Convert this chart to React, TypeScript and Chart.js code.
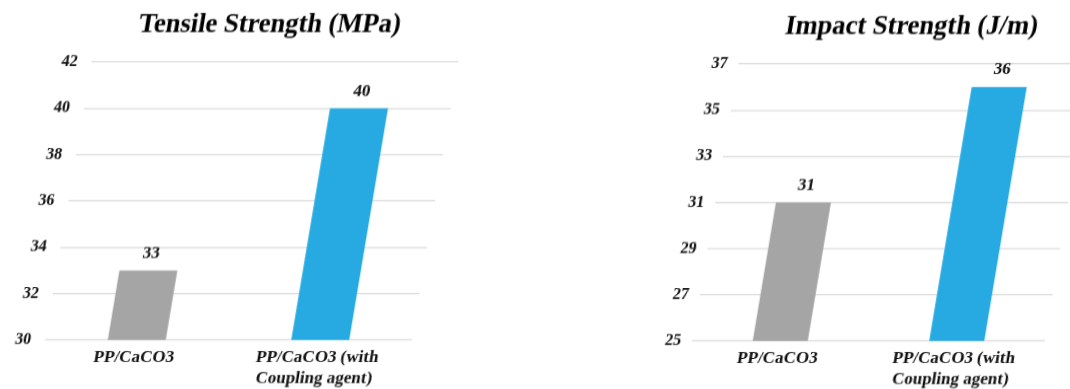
import React, { useEffect, useRef } from "react";
import { Chart, registerables } from "chart.js";

Chart.register(...registerables);

// ---- data ----
const categories: string[][] = [["PP/CaCO3"], ["PP/CaCO3 (with", "Coupling agent)"]];
const tensileValues = [33, 40];
const impactValues = [31, 36];
const tensileTicks = [30, 32, 34, 36, 38, 40, 42];
const impactTicks = [25, 27, 29, 31, 33, 35, 37];
const tensileTitle = "Tensile Strength (MPa)";
const impactTitle = "Impact Strength (J/m)";
const barColors = ["#a5a5a5", "#27aae1"];

const FONT = "\"Liberation Serif\", \"Times New Roman\", serif";

const valueLabels = {
  id: "valueLabels",
  afterDatasetsDraw(chart: any) {
    const { ctx } = chart;
    const meta = chart.getDatasetMeta(0);
    const data = chart.data.datasets[0].data;
    ctx.save();
    ctx.font = `bold 17px ${FONT}`;
    ctx.fillStyle = "#111";
    ctx.textAlign = "center";
    ctx.textBaseline = "middle";
    meta.data.forEach((bar: any, i: number) => {
      ctx.fillText(String(data[i]), bar.x, bar.y - 17);
    });
    ctx.restore();
  },
};

type Cfg = {
  title: string;
  values: number[];
  ticks: number[];
  left: number;
  width: number;
  height: number;
  padLeft: number;
  yAxisWidth: number;
  yTickPad: number;
  titleTop: number;
  titleBottom: number;
  xAxisHeight: number;
  originY: number;
  barPct: number;
};

function BarPanel(props: Cfg) {
  const ref = useRef<HTMLCanvasElement | null>(null);
  useEffect(() => {
    if (!ref.current) return;
    let chart: any = null;
    let cancelled = false;
    const make = () => {
      if (cancelled || !ref.current) return;
      chart = new Chart(ref.current, {
        type: "bar",
        data: {
          labels: categories,
          datasets: [
            {
              data: props.values,
              backgroundColor: barColors,
              borderWidth: 0,
              categoryPercentage: 1,
              barPercentage: props.barPct,
            },
          ],
        },
        options: {
          animation: false,
          responsive: false,
          devicePixelRatio: 1,
          layout: { padding: { left: props.padLeft, right: 0, top: 0, bottom: 0 } },
          plugins: {
            legend: { display: false },
            tooltip: { enabled: false },
            title: {
              display: true,
              text: props.title,
              color: "#000",
              font: { family: FONT, size: 26.5, weight: "bold", lineHeight: 1.2 },
              padding: { top: props.titleTop, bottom: props.titleBottom },
            },
          },
          scales: {
            x: {
              grid: { display: false, drawTicks: false },
              border: { display: false },
              ticks: {
                color: "#111",
                padding: 7,
                maxRotation: 0,
                autoSkip: false,
                font: { family: FONT, size: 17, weight: "bold", lineHeight: 1.25 },
              },
              afterFit: (s: any) => {
                s.height = props.xAxisHeight;
              },
            },
            y: {
              min: props.ticks[0],
              max: props.ticks[props.ticks.length - 1],
              grid: { color: "#d9d9d9", lineWidth: 1.2, drawTicks: false },
              border: { display: false },
              ticks: {
                color: "#111",
                padding: props.yTickPad,
                font: { family: FONT, size: 16, weight: "bold" },
              },
              afterBuildTicks: (s: any) => {
                s.ticks = props.ticks.map((v) => ({ value: v }));
              },
              afterFit: (s: any) => {
                s.width = props.yAxisWidth;
                s._computeLabelArea = () => undefined;
              },
            },
          },
        },
        plugins: [valueLabels],
      });
    };
    const fonts: any = (document as any).fonts;
    if (fonts && fonts.load) {
      Promise.all([
        fonts.load(`bold 17px "Liberation Serif"`),
        fonts.load(`bold 26px "Liberation Serif"`),
      ])
        .catch(() => null)
        .then(make);
    } else {
      make();
    }
    return () => {
      cancelled = true;
      if (chart) chart.destroy();
    };
  }, []);
  return (
    <canvas
      ref={ref}
      width={props.width}
      height={props.height}
      style={{
        position: "absolute",
        left: props.left,
        top: 0,
        width: props.width,
        height: props.height,
        transform: "skewX(-9.5deg)",
        transformOrigin: `0px ${props.originY}px`,
      }}
    />
  );
}

export default function App() {
  return (
    <div
      style={{
        position: "fixed",
        left: 0,
        top: 0,
        width: 1070,
        height: 389,
        overflow: "hidden",
        background: "#fff",
      }}
    >
      <BarPanel
        title={tensileTitle}
        values={tensileValues}
        ticks={tensileTicks}
        left={0}
        width={412}
        height={389}
        padLeft={22}
        yAxisWidth={23}
        yTickPad={14}
        titleTop={9}
        titleBottom={21.2}
        xAxisHeight={49}
        originY={340}
        barPct={0.316}
      />
      <BarPanel
        title={impactTitle}
        values={impactValues}
        ticks={impactTicks}
        left={640}
        width={405}
        height={389}
        padLeft={33}
        yAxisWidth={19}
        yTickPad={11}
        titleTop={11}
        titleBottom={21.2}
        xAxisHeight={48}
        originY={341}
        barPct={0.312}
      />
    </div>
  );
}
